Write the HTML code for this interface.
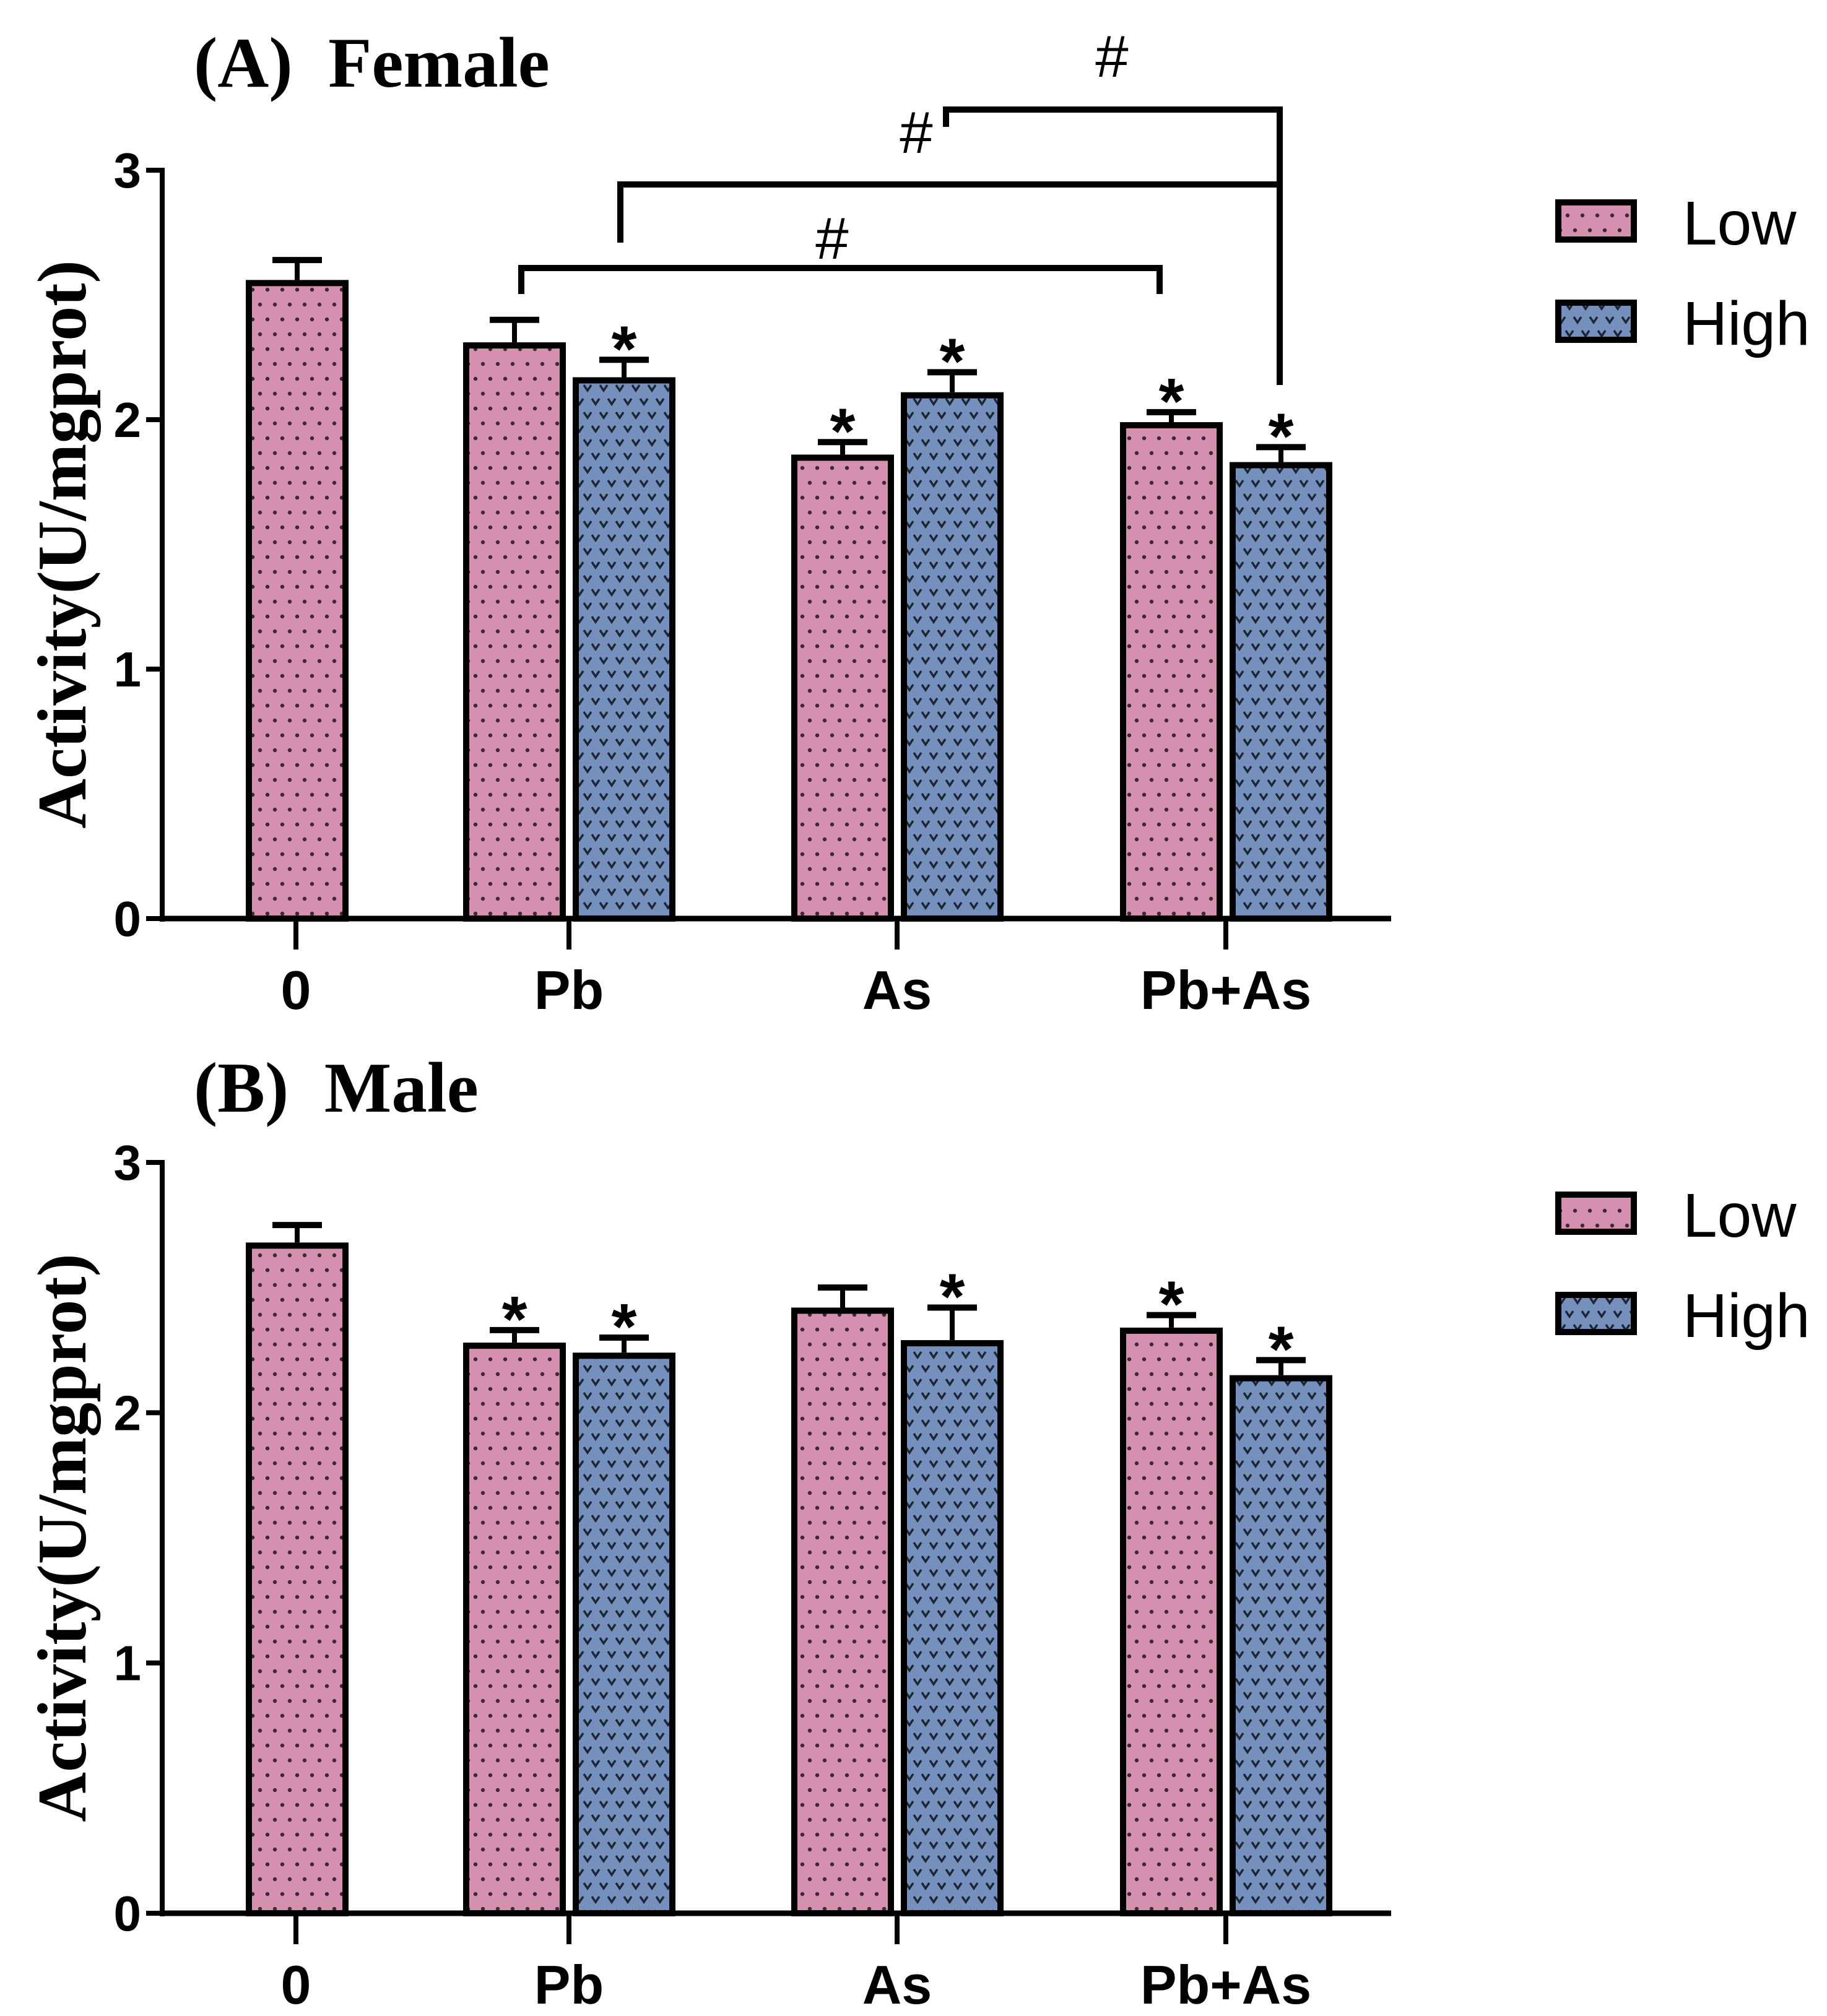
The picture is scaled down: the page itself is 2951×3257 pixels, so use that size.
<!DOCTYPE html>
<html><head><meta charset="utf-8"><style>
html,body{margin:0;padding:0;background:#fff;}
svg{display:block;}
</style></head><body>
<svg id="fig" width="2951" height="3257" viewBox="0 0 2951 3257" xmlns="http://www.w3.org/2000/svg">
<defs>
<pattern id="dots" width="24" height="48" patternUnits="userSpaceOnUse">
<rect width="24" height="48" fill="#d690b0"/>
<circle cx="12" cy="12" r="3.2" fill="#3a2a33"/>
<circle cx="0" cy="36" r="3.2" fill="#3a2a33"/>
<circle cx="24" cy="36" r="3.2" fill="#3a2a33"/>
</pattern>
<pattern id="vees" width="26" height="44" patternUnits="userSpaceOnUse">
<rect width="26" height="44" fill="#7590bd"/>
<path d="M7 6 L13 15 L19 6 M-6 28 L0 37 L6 28 M20 28 L26 37 L32 28" stroke="#1e2633" stroke-width="3.5" fill="none"/>
</pattern>
</defs>
</svg>
<script>
const groups = ["0","Pb","As","Pb+As"];
const femaleLow = [2.56, 2.31, 1.86, 1.99];
const femaleLowErr = [0.08, 0.09, 0.05, 0.04];
const femaleHigh = [null, 2.17, 2.11, 1.83];
const femaleHighErr = [null, 0.07, 0.08, 0.06];
const femaleLowSig = [false, false, true, true];
const femaleHighSig = [false, true, true, true];
const maleLow = [2.68, 2.28, 2.42, 2.34];
const maleLowErr = [0.07, 0.05, 0.08, 0.05];
const maleHigh = [null, 2.24, 2.29, 2.15];
const maleHighErr = [null, 0.06, 0.13, 0.06];
const maleLowSig = [false, true, false, true];
const maleHighSig = [false, true, true, true];
const yTicks = [0, 1, 2, 3];

const NS = "http://www.w3.org/2000/svg";
const svg = document.getElementById("fig");
function mk(tag, attrs, parent, text){
  const e = document.createElementNS(NS, tag);
  for (const k in attrs) e.setAttribute(k, attrs[k]);
  if (text !== undefined) e.textContent = text;
  (parent || svg).appendChild(e);
  return e;
}
const centers = [478, 919, 1449, 1980];
const xAxisR = 2247;
function xc(i){ return centers[i]; }

function panel(key, title, titleY, zero, top, low, lowErr, high, highErr, lowSig, highSig){
  const g = mk("g", {});
  
  
  const ys = v => zero - (zero - top) * v / 3;
  const t = mk("text", {x: 313, y: titleY, "font-family": "Liberation Serif, serif", "font-weight": "bold", "font-size": 115, fill: "#000"}, g, title);
  
  
  const ya = mk("line", {x1: 262, y1: top - 4, x2: 262, y2: zero + 5, stroke: "#000", "stroke-width": 8}, g);
  
  
  yTicks.forEach(v => {
    const y = ys(v);
    mk("line", {x1: 236, y1: y, x2: 262, y2: y, stroke: "#000", "stroke-width": 8}, g);
    const tl = mk("text", {x: 228, y: y + 28, "text-anchor": "end", "font-family": "Liberation Sans, sans-serif", "font-weight": "bold", "font-size": 80}, g, String(v));
    
    
  });
  const yt = mk("text", {x: 0, y: 0, transform: `translate(138 ${(top+zero)/2}) rotate(-90)`, "text-anchor": "middle", "font-family": "Liberation Serif, serif", "font-weight": "bold", "font-size": 112}, g, "Activity(U/mgprot)");
  
  
  const bw = 166;
  function bar(cx, v, e, sig, fill, name){
    const y = ys(v), ye = ys(v + e);
    mk("line", {x1: cx, y1: ye, x2: cx, y2: y, stroke: "#000", "stroke-width": 8}, g);
    mk("line", {x1: cx - 40, y1: ye, x2: cx + 40, y2: ye, stroke: "#000", "stroke-width": 10}, g);
    const r = mk("rect", {x: cx - bw/2 + 5, y: y + 5, width: bw - 10, height: zero - y - 5, fill: fill, stroke: "#000", "stroke-width": 10}, g);
    
    
    if (sig){
      const s = mk("text", {x: cx, y: ye + 18, "text-anchor": "middle", "font-family": "Liberation Sans, sans-serif", "font-weight": "bold", "font-size": 105}, g, "*");
      
      
    }
  }
  groups.forEach((grp, i) => {
    if (high[i] === null){
      bar(xc(i) + 2, low[i], lowErr[i], lowSig[i], "url(#dots)", key + '-bar-low-' + i);
    } else {
      bar(xc(i) - 88, low[i], lowErr[i], lowSig[i], "url(#dots)", key + '-bar-low-' + i);
      bar(xc(i) + 89, high[i], highErr[i], highSig[i], "url(#vees)", key + '-bar-high-' + i);
    }
    mk("line", {x1: xc(i), y1: zero, x2: xc(i), y2: zero + 50, stroke: "#000", "stroke-width": 8}, g);
    const xl = mk("text", {x: xc(i), y: zero + 146, "text-anchor": "middle", "font-family": "Liberation Sans, sans-serif", "font-weight": "bold", "font-size": 88}, g, grp);
    
    
  });
  const xa = mk("line", {x1: 258, y1: zero, x2: xAxisR, y2: zero, stroke: "#000", "stroke-width": 9}, g);
  
  
  const ly = top + 52;
  [["Low","url(#dots)"],["High","url(#vees)"]].forEach((it, k) => {
    const y0 = ly + k * 162;
    const lr = mk("rect", {x: 2517, y: y0, width: 122, height: 60, fill: it[1], stroke: "#000", "stroke-width": 10}, g);
    
    
    const lt = mk("text", {x: 2718, y: y0 + 68, "font-family": "Liberation Sans, sans-serif", "font-size": 100}, g, it[0]);
    
    
  });
}
panel("female", "(A)\u00a0\u00a0Female", 140, 1484, 275, femaleLow, femaleLowErr, femaleHigh, femaleHighErr, femaleLowSig, femaleHighSig);
panel("male", "(B)\u00a0\u00a0Male", 1796, 3091, 1878, maleLow, maleLowErr, maleHigh, maleHighErr, maleLowSig, maleHighSig);

const br = mk("g", {fill: "none", stroke: "#000", "stroke-width": 10});


mk("path", {d: "M842 475 V433 H1873 V475"}, br);
mk("path", {d: "M1002 392 V298 H2067 V622"}, br);
mk("path", {d: "M1528 205 V177 H2067 V298"}, br);
[[1344, 418],[1480, 247],[1796, 124]].forEach(p => {
  const h = mk("text", {x: p[0], y: p[1], "text-anchor": "middle", "font-family": "Liberation Sans, sans-serif", "font-size": 96});
  h.textContent = "#";
  
  
});
</script>
</body></html>
